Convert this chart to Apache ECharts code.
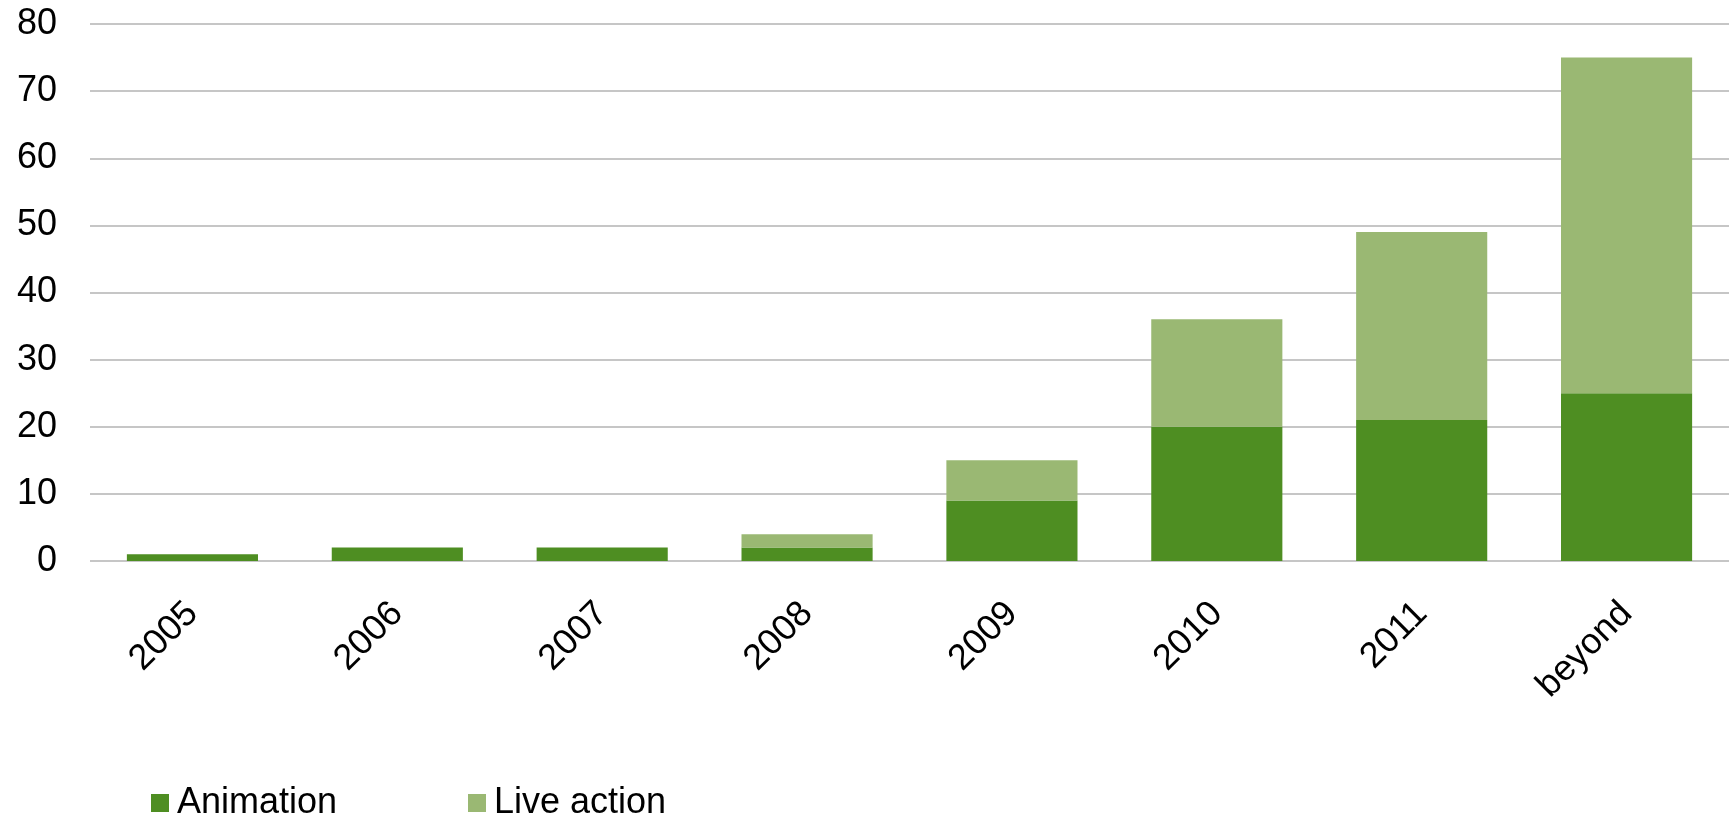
<!DOCTYPE html>
<html>
<head>
<meta charset="utf-8">
<script src="https://cdn.jsdelivr.net/npm/echarts@6/dist/echarts.min.js"></script>
<style>
  html, body { margin: 0; padding: 0; background: #ffffff; }
  #chart { width: 1729px; height: 817px; }
</style>
</head>
<body>
<div id="chart"></div>
<script>
// Releases per year, split by production type
const categories = ['2005', '2006', '2007', '2008', '2009', '2010', '2011', 'beyond'];
const animation  = [1, 2, 2, 2, 9, 20, 21, 25];
const liveAction = [0, 0, 0, 2, 6, 16, 28, 50];
const yTicks = { min: 0, max: 80, interval: 10 };

const darkGreen = '#4e8e22';
const lightGreen = '#9ab873';
const gridGray = '#c6c6c6';
const font = 'Liberation Sans, Arial, sans-serif';

const chart = echarts.init(document.getElementById('chart'), null, { renderer: 'canvas' });

// One legend block per series so each entry sits at its own x position
function legendAt(left, name) {
  return {
    left: left,
    top: 785,
    padding: 0,
    itemWidth: 18,
    itemHeight: 18,
    itemGap: 0,
    icon: 'rect',
    data: [name],
    textStyle: { fontFamily: font, fontSize: 36, color: '#000000', padding: [0, 0, 0, 3] }
  };
}

chart.setOption({
  animation: false,
  backgroundColor: '#ffffff',
  grid: { left: 90, top: 24, width: 1643, height: 537, containLabel: false },
  legend: [legendAt(151, 'Animation'), legendAt(468, 'Live action')],
  xAxis: {
    type: 'category',
    data: categories,
    // the baseline comes from the value axis split line at 0
    axisLine: { show: false },
    axisTick: { show: false },
    axisLabel: {
      rotate: 45,
      margin: 47,
      interval: 0,
      fontFamily: font,
      fontSize: 36,
      color: '#000000'
    }
  },
  yAxis: {
    type: 'value',
    min: yTicks.min,
    max: yTicks.max,
    interval: yTicks.interval,
    axisLine: { show: false },
    axisTick: { show: false },
    splitLine: { show: true, lineStyle: { color: gridGray, width: 2 } },
    axisLabel: {
      margin: 33,
      fontFamily: font,
      fontSize: 36,
      color: '#000000'
    }
  },
  series: [
    {
      name: 'Animation',
      type: 'bar',
      stack: 'total',
      barCategoryGap: '36%',
      data: animation,
      itemStyle: { color: darkGreen }
    },
    {
      name: 'Live action',
      type: 'bar',
      stack: 'total',
      barCategoryGap: '36%',
      data: liveAction,
      itemStyle: { color: lightGreen }
    }
  ]
});
</script>
</body>
</html>
